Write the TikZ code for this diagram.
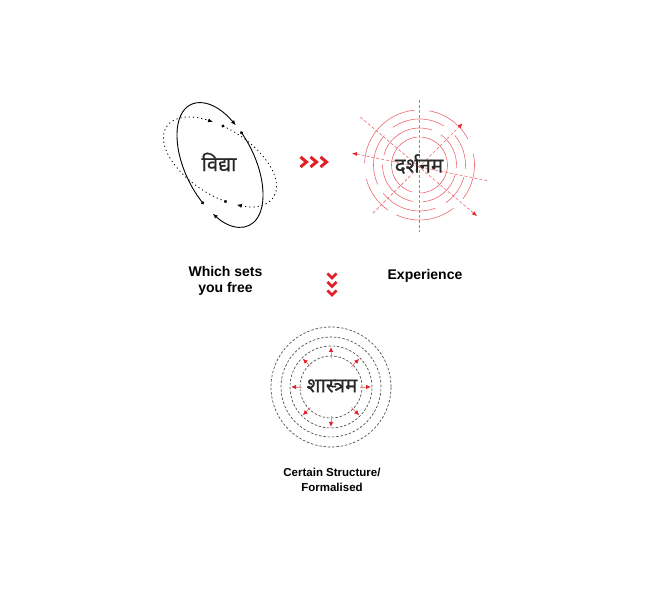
\documentclass[tikz,border=0pt]{standalone}
\usepackage{fontspec}
\setmainfont{Liberation Sans}
\newfontfamily\devfont[Script=Devanagari,FakeBold=0.6]{Noto Sans}
\usetikzlibrary{arrows.meta}
\definecolor{chevred}{RGB}{226,30,38}
\definecolor{ringred}{RGB}{238,104,112}
\definecolor{tipred}{RGB}{228,32,40}
\definecolor{inkgray}{RGB}{40,40,40}
\definecolor{ringgray}{RGB}{70,70,70}

\begin{document}
\begin{tikzpicture}[x=1pt, y=1pt,
    word/.style={font=\devfont\fontsize{20.5}{24}\selectfont, text=inkgray, inner sep=0pt},
    caption/.style={font=\bfseries\fontsize{14}{16}\selectfont, align=center, inner sep=0pt},
    small caption/.style={font=\bfseries\fontsize{11.5}{15.3}\selectfont, align=center, inner sep=0pt},
    solidarc/.style={line width=0.9pt, -{Latex[length=5pt,width=4pt]}},
    dotarc/.style={line width=0.8pt, dash pattern=on 1.2pt off 3pt, -{Latex[length=5pt,width=4pt]}},
    ring/.style={ringred, line width=0.6pt},
    ray/.style={ringred, line width=0.6pt, dash pattern=on 3pt off 2pt},
    chevron/.style={chevred, line width=3pt},
    grayring/.style={ringgray, line width=0.65pt, dash pattern=on 2.5pt off 1.8pt},
    outarrow/.style={ringred!80, line width=0.8pt, -{Latex[length=5pt,width=4.5pt,color=tipred]}}]
\useasboundingbox (0,0) rectangle (651,593);

% vidya: two broken orbits
\begin{scope}[shift={(220,428)}, rotate=26]
  \draw[solidarc] (17:35 and 67) arc[start angle=17, end angle=-142.7, x radius=35, y radius=67];
  \draw[solidarc] (-156.8:35 and 67) arc[start angle=-156.8, end angle=-334.6, x radius=35, y radius=67];
  \fill (17:35 and 67) circle (1.7);
  \fill (-156.8:35 and 67) circle (1.7);
\end{scope}
\begin{scope}[shift={(220,431)}, rotate=-33]
  \draw[dotarc] (105.5:64 and 33) arc[start angle=105.5, end angle=-54.3, x radius=64, y radius=33];
  \draw[dotarc] (-65.9:64 and 33) arc[start angle=-65.9, end angle=-244.4, x radius=64, y radius=33];
  \fill (105.5:64 and 33) circle (1.7);
  \fill (-65.9:64 and 33) circle (1.7);
\end{scope}
\node[word] (vidya) at (219,431) {विद्या};

% darshanam: broken rings and rays
\coordinate (dc) at (419.5,428);
\foreach \r/\a/\b in {55/95/178, 55/195/235, 55/245/308, 55/-38/12, 55/28/80,
                      46/58/125, 46/140/205, 46/218/290, 46/305/345, 46/-5/40,
                      37/70/165, 37/180/260, 37/275/345, 37/-5/55,
                      28/95/255, 28/270/445}
  \draw[ring] ([shift={(\a:\r)}]dc) arc[start angle=\a, end angle=\b, radius=\r];
\draw[ray] ([shift={(90:65)}]dc) -- ([shift={(-90:67)}]dc);
\draw[ray, -{Latex[length=5pt,width=4pt,color=tipred]}] ([shift={(141:76)}]dc) -- ([shift={(-41.6:77)}]dc);
\draw[ray, -{Latex[length=5pt,width=4pt,color=tipred]}] ([shift={(-134:67)}]dc) -- ([shift={(44:60)}]dc);
\draw[ray, {Latex[length=5pt,width=4pt,color=tipred]}-] ([shift={(170:68.6)}]dc) -- ([shift={(-13:70)}]dc);
\node[word] (darshan) at (419,429) {दर्शनम};

% chevrons
\foreach \x in {306.5,316.5,326.5}
  \draw[chevron] (\x-6,436) -- (\x,431) -- (\x-6,426);
\foreach \y in {315,306.5,298}
  \draw[chevron, line width=2.5pt] (327.5,\y+4.5) -- (332,\y) -- (336.5,\y+4.5);

% shastram: dashed rings with arrows
\coordinate (sc) at (331,206);
\foreach \r in {31,41,50,60}
  \draw[grayring] (sc) circle (\r);
\foreach \a in {0,45,...,315}
  \draw[outarrow] ([shift={(\a:29)}]sc) -- ([shift={(\a:40)}]sc);
\node[word] (shastra) at (332,207) {शास्त्रम};

% captions
\node[caption, anchor=north] (free) at (225.5,327) {Which sets\\you free};
\node[caption, anchor=base] (exper) at (425,313) {Experience};
\node[small caption, anchor=north] (certain) at (332,125.5) {Certain Structure/\\Formalised};
\end{tikzpicture}
\end{document}
